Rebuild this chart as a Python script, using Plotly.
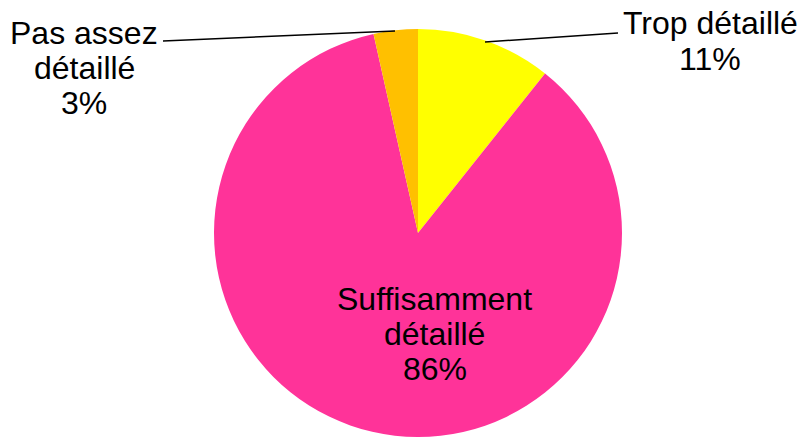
import plotly.graph_objects as go

# Slices, clockwise from 12 o'clock
labels = ["Trop détaillé", "Suffisamment détaillé", "Pas assez détaillé"]
values = [10.7, 85.8, 3.5]
pct_text = ["11%", "86%", "3%"]
colors = ["#FFFF00", "#FF3399", "#FFC000"]

W, H = 803, 437


def px(x):
    return x / W


def py(y):
    return 1 - y / H


fig = go.Figure(go.Pie(
    labels=labels,
    values=values,
    sort=False,
    direction="clockwise",
    rotation=0,
    marker=dict(colors=colors, line=dict(width=0)),
    textinfo="none",
    hoverinfo="label+percent",
    domain=dict(x=[px(214), px(622)], y=[py(437), py(29)]),
    showlegend=False,
))

# label text per slice: (lines, centre x, centre y) in pixels
label_lines = [
    ["Trop détaillé", pct_text[0]],
    ["Suffisamment", "détaillé", pct_text[1]],
    ["Pas assez", "détaillé", pct_text[2]],
]
label_pos = [(710, 41), (435, 334), (84, 68)]
line_gap = 35

for lines, (cx, cy) in zip(label_lines, label_pos):
    top = cy - line_gap * (len(lines) - 1) / 2
    for i, txt in enumerate(lines):
        fig.add_annotation(
            x=px(cx), y=py(top + i * line_gap), xref="paper", yref="paper",
            text=txt, showarrow=False, xanchor="center", yanchor="middle",
            font=dict(family="Liberation Sans, Arial, sans-serif", size=32, color="#000000"),
        )

# leader lines for the outside labels
leaders = [((485, 42), (618, 33)), ((163, 41), (395, 31))]
for (x0, y0), (x1, y1) in leaders:
    fig.add_shape(
        type="line", xref="paper", yref="paper",
        x0=px(x0), y0=py(y0), x1=px(x1), y1=py(y1),
        line=dict(color="#000000", width=1.5),
    )

fig.update_layout(
    width=W, height=H,
    margin=dict(l=0, r=0, t=0, b=0),
    paper_bgcolor="#FFFFFF",
    plot_bgcolor="#FFFFFF",
)

# drop the default body margin so the 803x437 figure fills the window
fig.write_html(
    "out.html",
    config={"displayModeBar": False},
    post_script="document.body.style.margin='0';",
)
